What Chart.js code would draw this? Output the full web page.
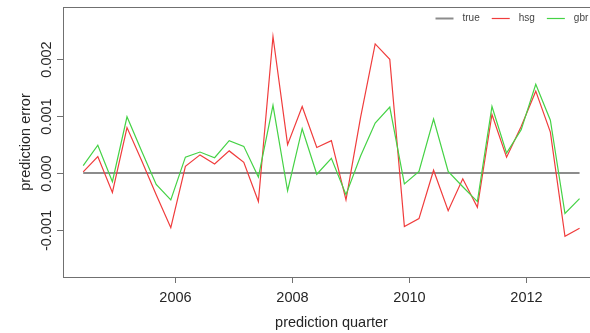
<!DOCTYPE html>
<html>
<head>
<meta charset="utf-8">
<script src="https://cdn.jsdelivr.net/npm/chart.js@4.4.0/dist/chart.umd.min.js"></script>
<style>
  html, body { margin: 0; padding: 0; background: #fff; overflow: hidden; }
  canvas { display: block; }
</style>
</head>
<body>
<canvas id="errChart" width="600" height="333"></canvas>
<script>
// one value per quarter, first quarter sits at 2004.42 on the time axis
var firstQuarter = 2004.42;
var quarterStep = 0.25;

var trueErr = [0, 0, 0, 0, 0, 0, 0, 0, 0, 0, 0, 0, 0, 0, 0, 0, 0, 0,
               0, 0, 0, 0, 0, 0, 0, 0, 0, 0, 0, 0, 0, 0, 0, 0, 0];

var hsgErr = [0.00002, 0.00029, -0.00034, 0.00080, 0.00022, -0.00038, -0.00096,
              0.00012, 0.00032, 0.00016, 0.00039, 0.00019, -0.00050, 0.00240,
              0.00050, 0.00117, 0.00045, 0.00057, -0.00047, 0.00098, 0.00227,
              0.00200, -0.00094, -0.00080, 0.00005, -0.00066, -0.00010, -0.00060,
              0.00103, 0.00028, 0.00082, 0.00144, 0.00072, -0.00111, -0.00097];

var gbrErr = [0.00013, 0.00049, -0.00015, 0.00099, 0.00039, -0.00020, -0.00047,
              0.00028, 0.00037, 0.00027, 0.00057, 0.00047, -0.00007, 0.00119,
              -0.00031, 0.00078, -0.00002, 0.00026, -0.00038, 0.00030, 0.00088,
              0.00116, -0.00019, 0.00003, 0.00095, 0.00003, -0.00024, -0.00050,
              0.00117, 0.00035, 0.00076, 0.00156, 0.00093, -0.00071, -0.00045];

var seriesNames = ['true', 'hsg', 'gbr'];

var xTicks = [2006, 2008, 2010, 2012];
var yTicks = [-0.001, 0, 0.001, 0.002];
var yTickLabels = ['-0.001', '0.000', '0.001', '0.002'];

function toPoints(vals) {
  return vals.map(function(v, i) {
    return { x: firstQuarter + i * quarterStep, y: v };
  });
}

var FONT = '"Liberation Sans", Arial, Helvetica, sans-serif';

// R style box, ticks, labels and legend
var rAxes = {
  id: 'rAxes',
  afterDraw: function(chart) {
    var ctx = chart.ctx;
    var a = chart.chartArea;
    var xs = chart.scales.x, ys = chart.scales.y;
    ctx.save();

    ctx.strokeStyle = '#707070';
    ctx.lineWidth = 1;
    ctx.strokeRect(Math.round(a.left) + 0.5, Math.round(a.top) + 0.5,
                   a.right - a.left, Math.round(a.bottom - a.top));

    ctx.fillStyle = '#262626';
    ctx.font = '14.5px ' + FONT;

    // x axis
    ctx.textAlign = 'center';
    ctx.textBaseline = 'alphabetic';
    xTicks.forEach(function(t) {
      var px = Math.round(xs.getPixelForValue(t)) + 0.5;
      ctx.beginPath();
      ctx.moveTo(px, a.bottom);
      ctx.lineTo(px, a.bottom + 6);
      ctx.stroke();
      ctx.fillText(String(t), px, a.bottom + 25);
    });
    ctx.fillText('prediction quarter', (a.left + a.right) / 2, 327);

    // y axis
    yTicks.forEach(function(t, i) {
      var py = Math.round(ys.getPixelForValue(t)) + 0.5;
      ctx.beginPath();
      ctx.moveTo(a.left, py);
      ctx.lineTo(a.left - 6, py);
      ctx.stroke();
      ctx.save();
      ctx.translate(a.left - 12, py);
      ctx.rotate(-Math.PI / 2);
      ctx.textAlign = 'center';
      ctx.textBaseline = 'alphabetic';
      ctx.fillText(yTickLabels[i], 0, 0);
      ctx.restore();
    });
    ctx.save();
    ctx.translate(30, (a.top + a.bottom) / 2);
    ctx.rotate(-Math.PI / 2);
    ctx.textAlign = 'center';
    ctx.fillText('prediction error', 0, 0);
    ctx.restore();

    // legend, top right inside the box
    ctx.font = '10px ' + FONT;
    ctx.textAlign = 'left';
    ctx.textBaseline = 'middle';
    var lx = a.right - 164.5;
    var ly = 18.5;
    chart.data.datasets.forEach(function(ds) {
      ctx.strokeStyle = ds.borderColor;
      ctx.lineWidth = ds.borderWidth;
      ctx.beginPath();
      ctx.moveTo(lx, ly);
      ctx.lineTo(lx + 18, ly);
      ctx.stroke();
      ctx.fillStyle = '#444';
      ctx.fillText(ds.label, lx + 27, ly);
      lx += 27 + ctx.measureText(ds.label).width + 12;
    });
    ctx.restore();
  }
};

var errCtx = document.getElementById('errChart').getContext('2d');
var chart = new Chart(errCtx, {
  type: 'line',
  data: {
    datasets: [{
      label: seriesNames[0],
      data: toPoints(trueErr),
      borderColor: '#8c8c8c',
      borderWidth: 2,
      order: 3
    }, {
      label: seriesNames[1],
      data: toPoints(hsgErr),
      borderColor: '#f03c3c',
      borderWidth: 1.2,
      order: 2
    }, {
      label: seriesNames[2],
      data: toPoints(gbrErr),
      borderColor: '#45d245',
      borderWidth: 1.2,
      order: 1
    }]
  },
  options: {
    responsive: false,
    animation: false,
    layout: { padding: { left: 63, top: 7, right: 0, bottom: 56 } },
    elements: { point: { radius: 0 }, line: { tension: 0 } },
    plugins: { legend: { display: false }, tooltip: { enabled: false } },
    scales: {
      x: { type: 'linear', display: false, min: 2004.074, max: 2013.27 },
      y: { type: 'linear', display: false, min: -0.001826, max: 0.002919 }
    }
  },
  plugins: [rAxes]
});
</script>
</body>
</html>
